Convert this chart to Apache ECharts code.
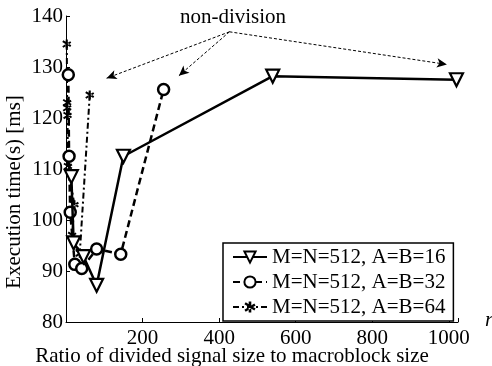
<!DOCTYPE html>
<html>
<head>
<meta charset="utf-8">
<script src="https://cdn.jsdelivr.net/npm/echarts@6/dist/echarts.min.js"></script>
<style>
  html, body { margin: 0; padding: 0; background: #fff; }
  #chart { width: 492px; height: 366px; }
</style>
</head>
<body>
<div id="chart"></div>
<script>
// series data: [r, time(ms)]
const seriesNames = ['M=N=512, A=B=16', 'M=N=512, A=B=32', 'M=N=512, A=B=64'];
const dataAB16 = [[14, 108.5], [20, 95.5], [46, 92.8], [80, 87.2], [150, 112.5], [540, 128.2], [1020, 127.5]];
const dataAB32 = [[6, 128.5], [8, 112.5], [11, 101.5], [23, 91.3], [41, 90.5], [80, 94.3], [143, 93.3], [255, 125.6]];
const dataAB64 = [[2, 134.5], [3, 123], [3, 122], [4, 120.5], [5, 110.5], [22, 103], [16, 97], [36, 93.5], [62, 124.5]];
const xTicks = [200, 400, 600, 800, 1000];
const yTicks = [80, 90, 100, 110, 120, 130, 140];
// "non-division" arrows (data coords)
const arrowFrom = [427, 136.9];
const arrowTo = [[106, 127.8], [295, 128.3], [995, 130.5]];

const serif = '"Liberation Serif", "DejaVu Serif", serif';
// bold asterisk marker
const starPath = 'path://M3.9 0 H6.1 V10 H3.9 Z M0.3 2.6 L1.4 0.8 L9.7 6.4 L8.6 8.2 Z M0.3 7.4 L1.4 9.2 L9.7 3.6 L8.6 1.8 Z';

const chart = echarts.init(document.getElementById('chart'));

const option = {
  backgroundColor: '#fff',
  animation: false,
  grid: { left: 66, right: 34, top: 16, bottom: 44 },
  xAxis: {
    type: 'value',
    min: 0,
    max: 1024,
    interval: 200,
    splitLine: { show: false },
    axisLine: { lineStyle: { color: '#000', width: 1 } },
    axisTick: { inside: true, length: 4, lineStyle: { color: '#000' } },
    axisLabel: {
      color: '#000', fontFamily: serif, fontSize: 21, margin: 6,
      showMinLabel: false,
      formatter: v => (xTicks.indexOf(v) >= 0 ? String(v) : '')
    }
  },
  yAxis: {
    type: 'value',
    min: yTicks[0],
    max: yTicks[yTicks.length - 1],
    interval: 10,
    splitLine: { show: false },
    axisLine: { show: true, lineStyle: { color: '#000', width: 1 } },
    axisTick: { show: true, inside: true, length: 4, lineStyle: { color: '#000' } },
    axisLabel: { color: '#000', fontFamily: serif, fontSize: 21, margin: 3 }
  },
  legend: {
    orient: 'vertical',
    left: 223,
    top: 243,
    width: 231,
    padding: [3, 8, 3, 9],
    itemGap: 3,
    itemWidth: 34,
    itemHeight: 14,
    backgroundColor: '#fff',
    borderColor: '#000',
    borderWidth: 1.5,
    borderRadius: 0,
    textStyle: { color: '#000', fontFamily: serif, fontSize: 21, lineHeight: 22 },
    data: seriesNames
  },
  graphic: [
    {
      type: 'text', x: 233, y: 17,
      style: { text: 'non-division', font: '21px ' + serif, fill: '#000',
        textAlign: 'center', textVerticalAlign: 'middle', align: 'center', verticalAlign: 'middle' }
    },
    {
      type: 'text', x: 14, y: 192, rotation: Math.PI / 2,
      style: { text: 'Execution time(s) [ms]', font: '21px ' + serif, fill: '#000',
        textAlign: 'center', textVerticalAlign: 'middle', align: 'center', verticalAlign: 'middle' }
    },
    {
      type: 'text', x: 232, y: 356,
      style: { text: 'Ratio of divided signal size to macroblock size', font: '21px ' + serif, fill: '#000',
        textAlign: 'center', textVerticalAlign: 'middle', align: 'center', verticalAlign: 'middle' }
    },
    {
      type: 'text', x: 489, y: 320,
      style: { text: 'r', font: 'italic 21px ' + serif, fill: '#000',
        textAlign: 'center', textVerticalAlign: 'middle', align: 'center', verticalAlign: 'middle' }
    }
  ],
  series: [
    {
      name: seriesNames[0],
      type: 'line',
      data: dataAB16,
      symbol: 'triangle',
      symbolRotate: 180,
      symbolSize: 13,
      lineStyle: { color: '#000', width: 2.5, type: 'solid' },
      itemStyle: { color: '#fff', borderColor: '#000', borderWidth: 2.2 },
      markLine: {
        silent: true,
        symbol: ['none', 'arrow'],
        symbolSize: [7, 10],
        label: { show: false },
        lineStyle: { color: '#000', width: 1, type: [3, 2] },
        data: arrowTo.map(t => [{ coord: arrowFrom }, { coord: t }])
      },
      z: 3
    },
    {
      name: seriesNames[1],
      type: 'line',
      data: dataAB32,
      symbol: 'circle',
      symbolSize: 11,
      lineStyle: { color: '#000', width: 2.5, type: [7, 4] },
      itemStyle: { color: '#fff', borderColor: '#000', borderWidth: 2.5 },
      z: 2
    },
    {
      name: seriesNames[2],
      type: 'line',
      data: dataAB64,
      symbol: starPath,
      symbolSize: 9,
      lineStyle: { color: '#000', width: 2, type: [6, 3, 2, 3] },
      itemStyle: { color: '#000', borderWidth: 0 },
      z: 1
    }
  ]
};

chart.setOption(option);
</script>
</body>
</html>
